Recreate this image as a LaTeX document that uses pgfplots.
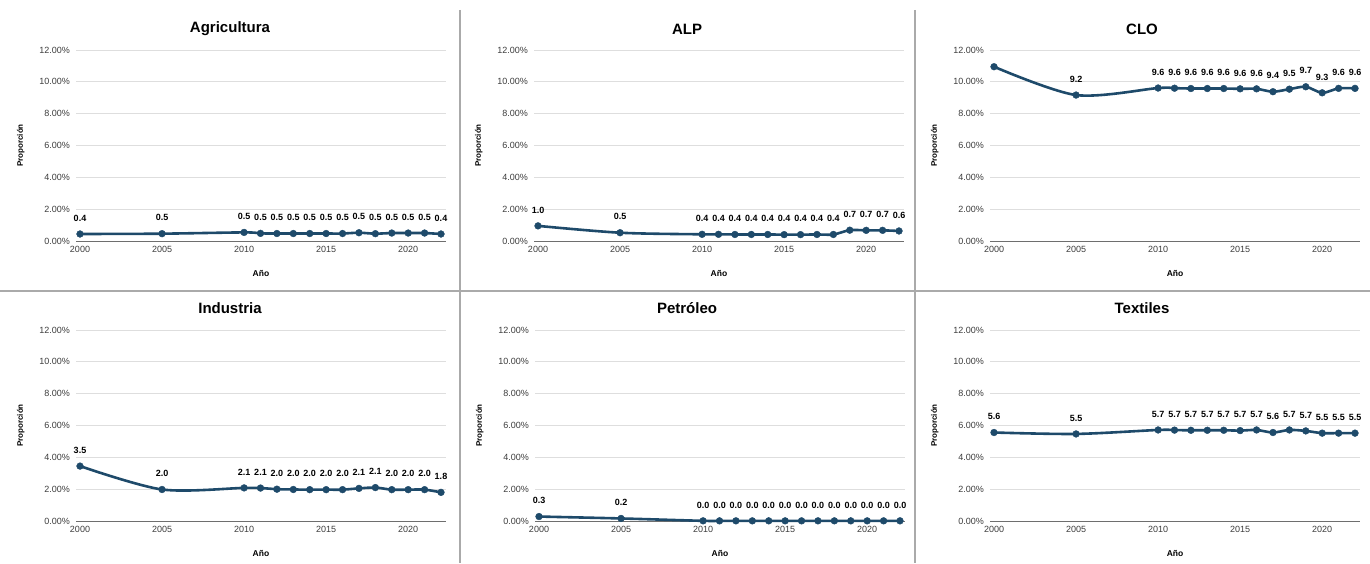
\documentclass[border=0pt]{standalone}
\usepackage{fontspec}
\setmainfont{Liberation Sans}
\usepackage{pgfplots}
\pgfplotsset{compat=1.18}
\definecolor{serie}{RGB}{30,74,106}
\definecolor{gridc}{RGB}{222,222,222}
\definecolor{axisc}{RGB}{110,110,110}
\definecolor{tickc}{RGB}{60,60,60}
\definecolor{sepc}{RGB}{170,170,170}
\pgfplotsset{
  panel/.style={
    scale only axis, width=370pt, height=191pt,
    xmin=1999.756, xmax=2022.305, ymin=0, ymax=12,
    axis x line*=bottom, axis y line*=left,
    y axis line style={draw=none},
    x axis line style={draw=axisc, line width=0.9pt},
    major tick length=0pt,
    ymajorgrids, grid style={gridc, line width=0.9pt},
    xtick={2000,2005,2010,2015,2020},
    ytick={0,2,4,6,8,10,12},
    /pgf/number format/assume math mode=true,
    xticklabel={\pgfmathprintnumber[1000 sep={}]{\tick}},
    yticklabel={\pgfmathprintnumber[fixed,fixed zerofill,precision=2]{\tick}\%},
    tick label style={font=\fontsize{9}{10}\selectfont, text=tickc},
    yticklabel style={inner sep=0pt, anchor=east, xshift=-6pt},
    xticklabel style={inner sep=0pt, anchor=north, yshift=-5pt},
    xlabel={Año}, ylabel={Proporción},
    xlabel style={font=\bfseries\fontsize{8.5}{10}\selectfont, at={(axis description cs:0.5,0)}, anchor=center, yshift=-32pt},
    ylabel style={font=\bfseries\fontsize{8}{10}\selectfont, at={(axis description cs:-0.149,0.5)}, anchor=center},
    clip=false,
    nodes near coords={\pgfmathprintnumber[fixed,fixed zerofill,precision=1]{\pgfplotspointmeta}},
    every node near coord/.append style={font=\bfseries\fontsize{9}{10}\selectfont, text=black, anchor=south, inner sep=0pt, yshift=12.5pt},
  },
  serieline/.style={serie, line width=2.6pt, smooth, tension=0.5, mark=*, mark size=3.4pt, mark options={fill=serie, draw=serie, line width=0.4pt, solid}, point meta=y},
}
\begin{document}
\begin{tikzpicture}
\useasboundingbox (0pt,0pt) rectangle (1370pt,563pt);
% separators
\draw[sepc, line width=1.2pt] (460pt,553pt) -- (460pt,0pt);
\draw[sepc, line width=1.2pt] (915pt,553pt) -- (915pt,0pt);
\draw[sepc, line width=1.2pt] (0pt,272pt) -- (1370pt,272pt);
% titles
\node[font=\bfseries\fontsize{15}{17}\selectfont] at (230pt,534pt) {Agricultura};
\node[font=\bfseries\fontsize{15}{17}\selectfont] at (687pt,534pt) {ALP};
\node[font=\bfseries\fontsize{15}{17}\selectfont] at (1142pt,534pt) {CLO};
\node[font=\bfseries\fontsize{15}{17}\selectfont] at (230pt,255pt) {Industria};
\node[font=\bfseries\fontsize{15}{17}\selectfont] at (687pt,255pt) {Petróleo};
\node[font=\bfseries\fontsize{15}{17}\selectfont] at (1142pt,255pt) {Textiles};

\begin{axis}[panel, at={(76pt,322pt)}, anchor=south west]
\addplot[serieline] coordinates {(2000,0.44) (2005,0.46) (2010,0.54) (2011,0.48) (2012,0.47) (2013,0.47) (2014,0.47) (2015,0.47) (2016,0.47) (2017,0.52) (2018,0.46) (2019,0.50) (2020,0.50) (2021,0.50) (2022,0.44)};
\end{axis}

\begin{axis}[panel, at={(534pt,322pt)}, anchor=south west]
\addplot[serieline] coordinates {(2000,0.95) (2005,0.52) (2010,0.42) (2011,0.42) (2012,0.41) (2013,0.41) (2014,0.41) (2015,0.40) (2016,0.40) (2017,0.41) (2018,0.41) (2019,0.68) (2020,0.67) (2021,0.67) (2022,0.63)};
\end{axis}

\begin{axis}[panel, at={(990pt,322pt)}, anchor=south west,
  visualization depends on={value \coordindex \as \myidx},
  nodes near coords={\ifnum\myidx=0 \else\pgfmathprintnumber[fixed,fixed zerofill,precision=1]{\pgfplotspointmeta}\fi}]
\addplot[serieline] coordinates {(2000,10.95) (2005,9.17) (2010,9.61) (2011,9.60) (2012,9.58) (2013,9.58) (2014,9.58) (2015,9.56) (2016,9.56) (2017,9.38) (2018,9.54) (2019,9.69) (2020,9.31) (2021,9.59) (2022,9.59)};
\end{axis}

\begin{axis}[panel, at={(76pt,42pt)}, anchor=south west]
\addplot[serieline] coordinates {(2000,3.45) (2005,1.98) (2010,2.08) (2011,2.07) (2012,2.00) (2013,1.98) (2014,1.97) (2015,1.97) (2016,1.97) (2017,2.05) (2018,2.10) (2019,1.97) (2020,1.97) (2021,1.97) (2022,1.80)};
\end{axis}

\begin{axis}[panel, at={(535pt,42pt)}, anchor=south west]
\addplot[serieline] coordinates {(2000,0.28) (2005,0.16) (2010,0.01) (2011,0.01) (2012,0.01) (2013,0.01) (2014,0.01) (2015,0.01) (2016,0.01) (2017,0.01) (2018,0.01) (2019,0.01) (2020,0.01) (2021,0.01) (2022,0.01)};
\end{axis}

\begin{axis}[panel, at={(990pt,42pt)}, anchor=south west]
\addplot[serieline] coordinates {(2000,5.56) (2005,5.47) (2010,5.72) (2011,5.71) (2012,5.70) (2013,5.70) (2014,5.70) (2015,5.68) (2016,5.72) (2017,5.56) (2018,5.72) (2019,5.66) (2020,5.52) (2021,5.52) (2022,5.52)};
\end{axis}
\end{tikzpicture}
\end{document}
